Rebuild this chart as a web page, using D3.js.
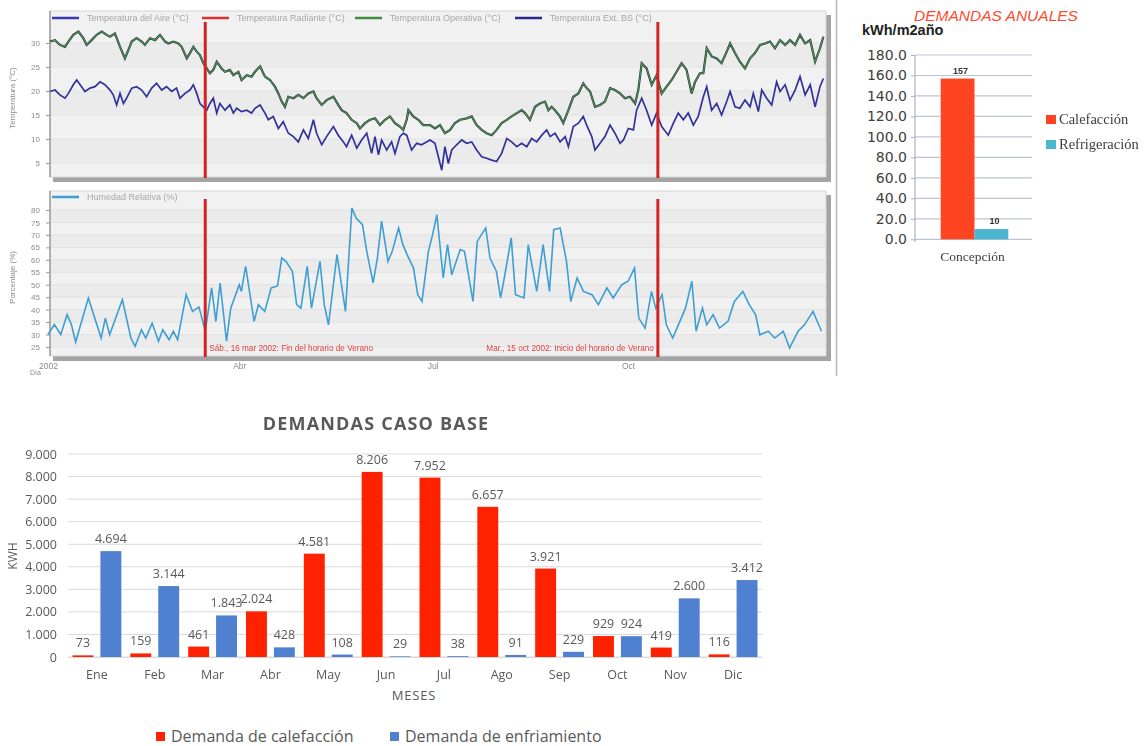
<!DOCTYPE html>
<html>
<head>
<meta charset="utf-8">
<script src="https://cdn.jsdelivr.net/npm/d3@7"></script>
<style>
  body { margin: 0; background: #fff; }
  svg { display: block; }
</style>
</head>
<body>
<svg id="chart" width="1147" height="746"></svg>
<script>
// ---------------- Data ----------------
// Simulation 2002: [day of year, value]
const indoorTemp = [
  [0.9,30.3],[3.3,30.6],[5.6,29.6],[8,29.2],[9.6,30.3],[11.9,31.7],[14.3,32.4],[16.6,31.0],[18.2,29.6],[20.5,30.6],
  [22.9,31.7],[25.3,32.4],[27.6,31.7],[29.2,31.3],[31.5,32.0],[33.9,29.2],[36.2,26.8],[37.8,28.5],[39.4,30.3],[41.7,31.0],
  [44.1,30.3],[45.6,29.6],[48,31.0],[50.4,30.6],[52.7,31.7],[55.1,30.3],[56.6,29.9],[59,30.3],[61.3,29.9],[62.9,29.2],
  [65.3,26.8],[66.8,27.9],[68.4,29.2],[70,28.2],[71.5,27.5],[73.1,25.8],[74.7,24.7],[76.2,23.7],[77.8,24.4],[79.4,26.1],
  [81.7,24.7],[83.3,24.0],[85.6,24.4],[87.2,23.3],[89.6,24.0],[91.1,22.3],[93.5,23.3],[95.8,23.0],[97.4,24.0],[99.8,25.1],
  [102.1,23.0],[104.5,22.3],[106.8,20.9],[108.4,19.5],[110,17.8],[111.5,16.7],[113.1,18.8],[115.5,18.5],[117.8,19.2],[120.2,18.5],
  [122.5,19.5],[124.9,19.9],[126.4,18.5],[128.8,17.1],[131.1,18.1],[134.3,18.8],[136.6,17.1],[138.2,16.0],[140.5,15.4],[142.9,14.0],
  [145.3,13.3],[146.8,12.2],[149.2,13.3],[151.5,14.0],[153.9,14.3],[156.2,12.9],[158.6,14.0],[160.9,14.7],[163.3,13.3],[165.6,12.6],
  [167.2,11.9],[168.8,14.0],[169.6,16.0],[171.9,14.7],[174.3,14.0],[176.6,12.9],[179.8,12.9],[182.1,12.2],[184.5,12.9],[186.8,11.2],
  [189.2,11.9],[191.5,13.3],[193.9,14.0],[197,14.3],[199.4,14.7],[201.7,12.9],[204.1,11.9],[206.4,11.2],[208.8,10.8],[211.1,11.9],
  [213.5,13.3],[215.9,14.0],[218.2,14.7],[220.6,15.4],[222.9,16.0],[224.5,15.4],[226.8,14.0],[229.2,16.7],[231.5,17.4],[233.9,17.8],
  [235.5,16.0],[237,16.7],[238.6,16.0],[240.9,14.7],[242.5,13.3],[244.9,16.0],[247.2,18.8],[249.6,19.5],[251.9,21.6],[253.5,20.6],
  [255.1,19.9],[257.4,16.7],[259.8,17.1],[262.1,17.8],[264.5,20.6],[266.8,20.2],[269.2,19.5],[271.5,18.5],[273.9,18.8],[276.3,17.4],
  [277.8,20.2],[279.4,25.8],[281.7,24.7],[284.1,21.3],[286.4,23.3],[288.8,19.5],[291.1,20.9],[293.5,22.3],[295.8,24.0],[298.2,25.8],
  [300.5,24.4],[302.9,19.5],[304.5,21.9],[306.8,23.7],[308.4,23.7],[310,28.9],[312.3,27.2],[314.7,26.8],[317,25.8],[319.4,28.2],
  [321,29.9],[323.3,27.9],[325.6,26.1],[328,24.7],[330.4,26.8],[332.7,27.9],[335.1,29.6],[337.4,29.9],[339.8,30.3],[342.1,28.9],
  [344.5,30.6],[346.9,29.6],[349.2,30.6],[351.6,29.6],[353.9,31.7],[356.3,29.9],[358.7,30.6],[361,26.1],[363.3,28.9],[364.9,31.3]
];
const outdoorTemp = [
  [0.9,19.9],[3.3,20.2],[5.6,19.2],[8,18.5],[9.6,19.5],[11.9,21.3],[13.5,22.3],[15.8,20.9],[17.4,19.9],[19.8,20.6],
  [22.1,20.9],[24.5,21.9],[26.8,21.3],[29.2,20.2],[30.7,19.2],[32.3,17.1],[33.9,19.5],[35.5,17.4],[37,18.5],[39.4,20.6],
  [41.7,20.9],[44.1,20.2],[46.4,18.8],[48.8,20.6],[51.1,21.6],[53.5,20.2],[55.8,20.9],[58.2,19.9],[60.5,20.6],[62.1,18.5],
  [64.5,19.5],[66.8,20.2],[68.4,21.3],[70,19.5],[71.5,17.4],[73.1,16.7],[74.7,16.0],[76.2,17.4],[77.8,18.5],[79.4,15.4],
  [80.9,17.4],[83.3,16.0],[85.6,17.1],[87.2,15.4],[88.8,16.4],[91.1,15.7],[93.5,16.0],[95.8,15.4],[97.4,16.4],[99.8,17.1],
  [102.1,15.4],[103.7,14.0],[106,14.7],[108.4,12.2],[110.7,13.6],[113.1,11.2],[115.5,10.5],[117.8,9.4],[120.2,11.9],[122.5,10.1],
  [124.9,14.0],[126.4,11.2],[128.8,8.8],[131.1,10.5],[134.3,12.6],[136.6,10.8],[139,9.4],[140.5,8.4],[142.9,10.8],[145.3,8.1],
  [147.6,9.8],[150,11.2],[152.3,7.0],[153.9,10.5],[155.5,6.7],[157,9.8],[159.4,7.7],[161.7,9.4],[163.3,7.0],[165.6,10.5],
  [167.2,11.2],[168.8,10.8],[171.1,7.7],[173.5,9.1],[175.8,8.8],[179.8,9.8],[182.1,9.1],[183.7,6.3],[185.3,3.5],[186.8,8.4],
  [188.4,4.9],[190,7.7],[192.3,8.8],[194.7,9.8],[197,9.1],[199.4,9.4],[201.7,7.7],[204.1,6.3],[206.4,6.0],[208.8,5.6],
  [211.1,5.3],[213.5,7.0],[215.9,10.1],[218.2,9.4],[220.6,8.4],[222.9,9.1],[225.3,8.4],[227.6,10.1],[230,9.4],[232.4,10.8],
  [234.7,11.9],[236.3,10.5],[238.6,11.2],[241,9.4],[243.4,10.5],[244.9,8.4],[247.2,12.6],[249.6,13.3],[251.9,14.7],[253.5,12.9],
  [255.9,10.5],[257.4,7.7],[259.8,9.1],[262.1,10.5],[264.5,12.9],[266.8,11.2],[269.2,9.1],[270.8,9.8],[273.1,12.2],[275.5,11.9],
  [277,16.0],[279.4,18.5],[281.7,16.0],[284.1,12.9],[286.4,15.4],[288.8,12.6],[291.9,10.8],[294.3,13.3],[296.6,15.4],[299,14.0],
  [301.3,15.4],[303.7,12.9],[306,14.7],[308.4,18.8],[310,20.9],[312.3,16.0],[314.7,17.4],[317,15.0],[319.4,17.8],[321,19.9],
  [323.3,16.7],[325.6,16.4],[328,18.1],[330.4,16.7],[331.9,19.5],[334.3,15.7],[335.9,20.2],[338.2,18.5],[340.6,17.1],[342.9,21.9],
  [344.5,19.9],[346.9,21.3],[349.2,18.1],[351.6,20.2],[353.9,23.0],[356.3,19.2],[358.7,21.3],[361,16.7],[363.3,20.9],[364.9,22.6]
];
const relHumidity = [
  [0,30],[3,34],[6,30],[9,38],[11,34],[13,27],[19,44.7],[25,28.6],[27,36.6],[29,29.9],
  [35,44],[39,28.6],[41,25.3],[44,31.9],[46,28.6],[49,34.6],[52,27.3],[54,31.9],[57,27.9],[59,31.3],
  [61,27.9],[65,46],[68,39.3],[71,41],[72,38],[74,31.3],[77,48.7],[79,35.3],[81,50.7],[84,27.3],
  [86,40.6],[90,50],[91,47.3],[93,57.4],[97,35.3],[99,42],[102,39.3],[105,48.7],[108,49.5],[110,60.7],
  [112,59.4],[115,55.4],[117,42],[119,40.6],[122,57.4],[124,40.6],[128,59.4],[130,42],[132,33.9],[136,62.1],
  [140,39.3],[143,80.8],[145,76.8],[148,74.1],[150,63.4],[153,50.7],[155,60.7],[157,75.5],[160,59.4],[162,63.4],
  [165,72.8],[167,66.1],[169,62.1],[172,56.7],[174,46],[176,43.3],[179,63.4],[181,70.1],[183,78.1],[186,52.7],
  [188,66.1],[190,54],[194,64.1],[196,63.4],[200,43.3],[202,67.4],[206,72.8],[208,60.7],[211,55.4],[213,44.7],
  [215,54],[218,68.8],[220,46],[224,44.7],[226,66.1],[230,47.3],[233,66.1],[236,47.3],[238,72.1],[241,72.8],
  [244,59.4],[246,43.3],[249,52.7],[252,47.3],[256,46],[259,42],[263,48.7],[266,44.7],[270,50],[273,51.4],
  [276,56.7],[278,36.6],[281,32.6],[284,47.3],[286,40.6],[289,46],[291,33.9],[294,28.6],[296,32.6],[300,40.6],
  [303,51.4],[305,31.3],[308,40.6],[310,33.9],[313,38],[316,32.6],[320,35.3],[323,43.3],[327,47.3],[330,42],
  [333,38],[335,29.9],[339,31.3],[342,28.6],[346,31.3],[349,24.6],[353,31.3],[356,33.9],[360,39.3],[364,31.3]
];
const tempTicks = [5, 10, 15, 20, 25, 30];
const humidityTicks = [25, 30, 35, 40, 45, 50, 55, 60, 65, 70, 75, 80];
const tempLegend = ["Temperatura del Aire (°C)", "Temperatura Radiante (°C)", "Temperatura Operativa (°C)", "Temperatura Ext. BS (°C)"];
const dstEvents = [
  { day: 74, text: "Sáb., 16 mar 2002: Fin del horario de Verano", side: "right" },
  { day: 287, text: "Mar., 15 oct 2002: Inicio del horario de Verano", side: "left" }
];
const quarterLabels = ["2002", "Abr", "Jul", "Oct"];
const quarterDays = [0, 90, 181, 273];

// Annual demand (kWh/m2año)
const annualCategories = ["Concepción"];
const annualSeries = ["Calefacción", "Refrigeración"];
const annualHeating = [157];
const annualCooling = [10];

// Monthly demand (kWh)
const months = ["Ene", "Feb", "Mar", "Abr", "May", "Jun", "Jul", "Ago", "Sep", "Oct", "Nov", "Dic"];
const heatingDemand = [73, 159, 461, 2024, 4581, 8206, 7952, 6657, 3921, 929, 419, 116];
const coolingDemand = [4694, 3144, 1843, 428, 108, 29, 38, 91, 229, 924, 2600, 3412];
const monthlySeries = ["Demanda de calefacción", "Demanda de enfriamiento"];

// ---------------- Drawing ----------------
const svg = d3.select("#chart");
svg.append("rect").attr("width", 1147).attr("height", 746).attr("fill", "#fff");
const defs = svg.append("defs");
defs.append("filter").attr("id", "soft").attr("x", "-2%").attr("y", "-2%").attr("width", "104%").attr("height", "104%")
  .append("feGaussianBlur").attr("stdDeviation", 0.6);

// ===== Simulation panels =====
const yearStart = Date.UTC(2002, 0, 1);
const dayToDate = d => new Date(yearStart + d * 864e5);
const x = d3.scaleUtc().domain([dayToDate(0), dayToDate(365)]).range([48, 823.6]);
const px = d => x(dayToDate(d));

const sim = svg.append("g").attr("filter", "url(#soft)");
const smallFont = "Liberation Sans, Arial, sans-serif";

const panels = [
  { y0: 11, y1: 177, scale: d3.scaleLinear().domain([30, 5]).range([43, 163]), ticks: tempTicks, title: "Temperatura (°C)" },
  { y0: 191, y1: 356, scale: d3.scaleLinear().domain([80, 25]).range([210, 347]), ticks: humidityTicks, title: "Porcentaje (%)" }
];

panels.forEach((p, i) => {
  // drop shadow + plot area
  sim.append("rect").attr("x", 53).attr("y", p.y0 + 4).attr("width", 778).attr("height", p.y1 - p.y0 + 1).attr("fill", "#a4a4a4");
  sim.append("rect").attr("x", 50).attr("y", p.y0).attr("width", 776).attr("height", p.y1 - p.y0)
    .attr("fill", "#f1f1f1").attr("stroke", "#d6d6d6").attr("stroke-width", 1);
  // faint bands
  const t = p.ticks;
  for (let k = 0; k < t.length - 1; k += 2) {
    const ya = p.scale(t[k + 1]), yb = p.scale(t[k]);
    sim.append("rect").attr("x", 51).attr("y", Math.min(ya, yb)).attr("width", 774).attr("height", Math.abs(yb - ya)).attr("fill", "#ebebeb");
  }
  sim.append("g").selectAll("line").data(t).join("line")
    .attr("x1", 51).attr("x2", 825).attr("y1", d => p.scale(d)).attr("y2", d => p.scale(d))
    .attr("stroke", "#e2e2e2");
  // y axis
  const ax = sim.append("g").attr("transform", "translate(50,0)")
    .call(d3.axisLeft(p.scale).tickValues(t).tickSize(4).tickPadding(6));
  ax.select(".domain").attr("d", `M0,${p.y0}V${p.y1}`).attr("stroke", "#777");
  ax.selectAll("line").attr("stroke", "#999");
  ax.selectAll("text").attr("font-family", smallFont).attr("font-size", 8).attr("fill", "#8a8a8a");
  sim.append("text").attr("transform", `translate(15,${(p.y0 + p.y1) / 2 + 4}) rotate(-90)`)
    .attr("text-anchor", "middle").attr("font-family", smallFont).attr("font-size", 8).attr("fill", "#8a8a8a")
    .text(p.title);
});

const yT = panels[0].scale, yH = panels[1].scale;

// legends
const legendColors = ["#3a3ab0", "#d83030", "#3f8f3f", "#2c2c8c"];
const legendX = [52, 202, 355, 515];
tempLegend.forEach((name, i) => {
  sim.append("line").attr("x1", legendX[i]).attr("x2", legendX[i] + 27).attr("y1", 18).attr("y2", 18)
    .attr("stroke", legendColors[i]).attr("stroke-width", 2.5);
  sim.append("text").attr("x", legendX[i] + 35).attr("y", 21).attr("font-family", smallFont)
    .attr("font-size", 9).attr("fill", "#a8a8a8").text(name);
});
sim.append("line").attr("x1", 52).attr("x2", 79).attr("y1", 197).attr("y2", 197).attr("stroke", "#3d9fd3").attr("stroke-width", 2.5);
sim.append("text").attr("x", 87).attr("y", 200).attr("font-family", smallFont).attr("font-size", 9).attr("fill", "#a8a8a8").text("Humedad Relativa (%)");

// series
const lineT = d3.line().x(d => px(d[0])).y(d => yT(d[1]));
const lineH = d3.line().x(d => px(d[0])).y(d => yH(d[1]));
sim.append("path").datum(outdoorTemp).attr("d", lineT).attr("fill", "none").attr("stroke", "#33339a").attr("stroke-width", 1.7);
sim.append("path").datum(indoorTemp).attr("d", lineT).attr("fill", "none").attr("stroke", "#d83030").attr("stroke-width", 1);
sim.append("path").datum(indoorTemp).attr("d", lineT).attr("fill", "none").attr("stroke", "#2e2e55").attr("stroke-width", 2.2);
sim.append("path").datum(indoorTemp).attr("d", lineT).attr("fill", "none").attr("stroke", "#4a9a3e").attr("stroke-width", 1.1);
sim.append("path").datum(relHumidity).attr("d", lineH).attr("fill", "none").attr("stroke", "#3d9fd3").attr("stroke-width", 1.6);

// daylight saving markers
dstEvents.forEach(e => {
  const xe = px(e.day);
  sim.append("line").attr("x1", xe).attr("x2", xe).attr("y1", 22).attr("y2", 178).attr("stroke", "#d42424").attr("stroke-width", 3);
  sim.append("line").attr("x1", xe).attr("x2", xe).attr("y1", 199).attr("y2", 357).attr("stroke", "#d42424").attr("stroke-width", 3);
  sim.append("text").attr("x", e.side === "right" ? xe + 4 : xe - 4).attr("y", 350.5)
    .attr("text-anchor", e.side === "right" ? "start" : "end")
    .attr("font-family", smallFont).attr("font-size", 8.2).attr("fill", "#e04040").text(e.text);
});

// time axis
const xa = sim.append("g").attr("transform", "translate(0,358)")
  .call(d3.axisBottom(x).tickValues(quarterDays.map(dayToDate)).tickSize(0).tickPadding(5)
    .tickFormat((d, i) => quarterLabels[i]));
xa.select(".domain").remove();
xa.selectAll("text").attr("font-family", smallFont).attr("font-size", 8.5).attr("fill", "#8a8a8a");
sim.append("text").attr("x", 30).attr("y", 375).attr("font-family", smallFont).attr("font-size", 7).attr("fill", "#8a8a8a").text("Día");

// separator
svg.append("line").attr("x1", 836.5).attr("x2", 836.5).attr("y1", 0).attr("y2", 376).attr("stroke", "#b5b5b5").attr("stroke-width", 1.5);

// ===== Annual demand chart =====
const ann = svg.append("g");
const yA = d3.scaleLinear().domain([0, 180]).range([239.3, 55]);
const xA = d3.scaleBand().domain(annualCategories).range([915, 1032]);
const xAs = d3.scaleBand().domain(annualSeries).range([25.7, 93.3]);
const annualColors = ["#ff4421", "#4bb6cf"];
const annualValues = [annualHeating, annualCooling];
const sansA = "DejaVu Sans, Verdana, sans-serif";

ann.append("text").attr("x", 996).attr("y", 21).attr("text-anchor", "middle")
  .attr("font-family", "Liberation Sans, Arial, sans-serif").attr("font-style", "italic").attr("font-size", 15.5)
  .attr("fill", "#ff4a2a").text("DEMANDAS ANUALES");
ann.append("text").attr("x", 862).attr("y", 35).attr("font-family", "Liberation Sans, Arial, sans-serif")
  .attr("font-weight", "bold").attr("font-size", 14.5).attr("fill", "#222").text("kWh/m2año");

ann.append("g").selectAll("line").data(yA.ticks(9)).join("line")
  .attr("x1", 915).attr("x2", 1032).attr("y1", d => yA(d)).attr("y2", d => yA(d))
  .attr("stroke", "#bcc4d4").attr("stroke-width", 1.2);
const aax = ann.append("g").attr("transform", "translate(915,0)")
  .call(d3.axisLeft(yA).ticks(9).tickFormat(d3.format(".1f")).tickSize(4).tickPadding(4));
aax.select(".domain").attr("d", "M0,55V242").attr("stroke", "#aab4c6").attr("stroke-width", 1.2);
aax.selectAll("line").attr("stroke", "#aab4c6");
aax.selectAll("text").attr("font-family", sansA).attr("font-size", 14).attr("fill", "#404040");

annualCategories.forEach((c, ci) => {
  annualSeries.forEach((s, si) => {
    const v = annualValues[si][ci];
    const bx = xA(c) + xAs(s);
    ann.append("rect").attr("x", bx).attr("y", yA(v)).attr("width", xAs.bandwidth()).attr("height", yA(0) - yA(v))
      .attr("fill", annualColors[si]);
    ann.append("text").attr("x", bx + xAs.bandwidth() / 2 + 3).attr("y", yA(v) - 5).attr("text-anchor", "middle")
      .attr("font-family", "Liberation Sans, Arial, sans-serif").attr("font-weight", "bold").attr("font-size", 9)
      .attr("fill", "#333").text(d3.format("d")(v));
  });
  ann.append("text").attr("x", xA(c) + xA.bandwidth() / 2 - 1).attr("y", 261).attr("text-anchor", "middle")
    .attr("font-family", "Liberation Serif, DejaVu Serif, serif").attr("font-size", 13.5).attr("fill", "#404040").text(c);
});
annualSeries.forEach((s, si) => {
  const ly = 115 + si * 25;
  ann.append("rect").attr("x", 1046).attr("y", ly).attr("width", 10).attr("height", 9).attr("fill", annualColors[si]);
  ann.append("text").attr("x", 1059).attr("y", ly + 9).attr("font-family", "Liberation Serif, DejaVu Serif, serif")
    .attr("font-size", 14.5).attr("fill", "#404040").text(s);
});

// ===== Monthly demand chart =====
const mon = svg.append("g");
const fontM = "Open Sans, Noto Sans, sans-serif";
const greyText = "#595959";
const loc = d3.formatLocale({ decimal: ",", thousands: ".", grouping: [3], currency: ["", "€"] });
const fmt = loc.format(",d");
const xM = d3.scaleBand().domain(months).range([68, 762]);
const xMs = d3.scaleBand().domain(monthlySeries).range([4.5, xM.bandwidth() - 4.5]).paddingInner(0.25);
const yM = d3.scaleLinear().domain([0, 9000]).range([657, 454]);
const monthlyColors = ["#fe2200", "#4f81d0"];
const monthlyValues = [heatingDemand, coolingDemand];

mon.append("text").attr("x", 376).attr("y", 430).attr("text-anchor", "middle").attr("font-family", fontM)
  .attr("font-weight", "bold").attr("font-size", 18).attr("letter-spacing", 1.2).attr("fill", greyText).text("DEMANDAS CASO BASE");

mon.append("g").selectAll("line").data(yM.ticks(9)).join("line")
  .attr("x1", 68).attr("x2", 762).attr("y1", d => yM(d)).attr("y2", d => yM(d))
  .attr("stroke", "#d9d9d9").attr("stroke-width", 1);
const max = mon.append("g").attr("transform", "translate(68,0)")
  .call(d3.axisLeft(yM).ticks(9).tickFormat(fmt).tickSize(0).tickPadding(11));
max.select(".domain").remove();
max.selectAll("text").attr("font-family", fontM).attr("font-size", 12.5).attr("fill", greyText);

months.forEach((m, mi) => {
  monthlySeries.forEach((s, si) => {
    const v = monthlyValues[si][mi];
    const bx = xM(m) + xMs(s);
    mon.append("rect").attr("x", bx).attr("y", yM(v)).attr("width", xMs.bandwidth()).attr("height", yM(0) - yM(v))
      .attr("fill", monthlyColors[si]);
    mon.append("text").attr("x", bx + xMs.bandwidth() / 2).attr("y", yM(v) - 8).attr("text-anchor", "middle")
      .attr("font-family", fontM).attr("font-size", 12.5).attr("fill", greyText).text(fmt(v));
  });
});
const mxa = mon.append("g").attr("transform", "translate(0,657)")
  .call(d3.axisBottom(xM).tickSize(0).tickPadding(13));
mxa.select(".domain").attr("stroke", "#d9d9d9");
mxa.selectAll("text").attr("font-family", fontM).attr("font-size", 12.5).attr("fill", greyText);

mon.append("text").attr("x", 414).attr("y", 700).attr("text-anchor", "middle").attr("font-family", fontM)
  .attr("font-size", 13).attr("letter-spacing", 0.8).attr("fill", greyText).text("MESES");
mon.append("text").attr("transform", "translate(17,556) rotate(-90)").attr("text-anchor", "middle")
  .attr("font-family", fontM).attr("font-size", 12).attr("fill", greyText).text("KWH");

const legendM = [156, 390];
monthlySeries.forEach((s, si) => {
  mon.append("rect").attr("x", legendM[si]).attr("y", 732).attr("width", 9).attr("height", 9).attr("fill", monthlyColors[si]);
  mon.append("text").attr("x", legendM[si] + 15).attr("y", 742).attr("font-family", fontM)
    .attr("font-size", 16).attr("fill", greyText).text(s);
});
</script>
</body>
</html>
